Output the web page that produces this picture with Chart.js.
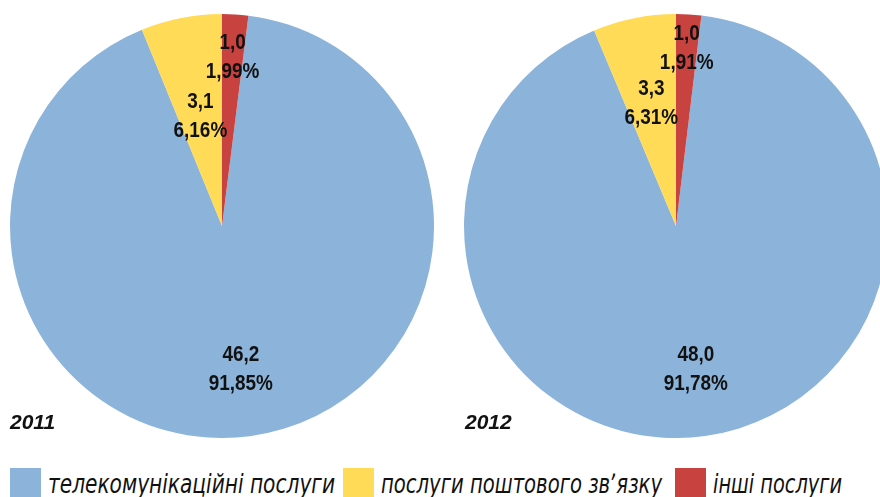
<!DOCTYPE html>
<html>
<head>
<meta charset="utf-8">
<script src="https://cdn.jsdelivr.net/npm/chart.js@4.4.0/dist/chart.umd.min.js"></script>
<style>
  html, body { margin: 0; padding: 0; background: #fff; }
  body { width: 880px; height: 497px; position: relative; overflow: hidden; }
  canvas { position: absolute; top: 14px; }
  #pie2011 { left: 10px; }
  #pie2012 { left: 464px; }
  .year { position: absolute; top: 410px; font: italic bold 21px "Liberation Sans", Arial, sans-serif; color: #111; }
  .leg { position: absolute; top: 468px; height: 31px; white-space: nowrap; }
  .leg span.box { position: absolute; left: 0; top: 0; width: 31px; height: 31px; }
  .leg span.txt { position: absolute; left: 38px; top: 1px; display: inline-block; transform-origin: 0 50%;
                  font: italic 26px "DejaVu Sans Condensed", "DejaVu Sans", sans-serif; color: #111; line-height: 31px; }
</style>
</head>
<body>
<canvas id="pie2011" width="424" height="424"></canvas>
<canvas id="pie2012" width="424" height="424"></canvas>
<div class="year" style="left:10px">2011</div>
<div class="year" style="left:465px">2012</div>
<div id="legend"></div>
<script>
const categories = ['телекомунікаційні послуги', 'послуги поштового зв\u02BCязку', 'інші послуги'];
const colors = ['#8CB3D9', '#FFDB58', '#C8433F'];
const values2011 = [46.2, 3.1, 1.0];
const values2012 = [48.0, 3.3, 1.0];
const legendX = [10, 343, 675];
const legendTextW = [287, 281, 129];

function fmt(v, d) {
    return v.toFixed(d).replace('.', ',');
}

const labelPlugin = {
    id: 'sliceLabels',
    afterDatasetsDraw(chart, args, opts) {
        const ctx = chart.ctx;
        const ds = chart.data.datasets[0];
        const total = ds.data.reduce((a, b) => a + b, 0);
        const arcs = chart.getDatasetMeta(0).data;
        const put = (txt, x, y) => {
            ctx.save();
            ctx.translate(x, y);
            ctx.scale(0.86, 1);
            ctx.fillText(txt, 0, 0);
            ctx.restore();
        };
        ctx.save();
        ctx.font = 'bold 22px "Liberation Sans", Arial, sans-serif';
        ctx.fillStyle = '#111';
        ctx.textAlign = 'center';
        ctx.textBaseline = 'middle';
        arcs.forEach((arc, i) => {
            const p = arc.getProps(['x', 'y', 'startAngle', 'endAngle', 'outerRadius'], true);
            const mid = (p.startAngle + p.endAngle) / 2;
            const r = p.outerRadius * opts.radius[i];
            const cx = p.x + Math.cos(mid) * r;
            const cy = p.y + Math.sin(mid) * r;
            put(fmt(ds.data[i], 1), cx, cy - 14);
            put(fmt(ds.data[i] / total * 100, 2) + '%', cx, cy + 15);
        });
        ctx.restore();
    }
};

function makePie(id, values, radius) {
    const total = values.reduce((a, b) => a + b, 0);
    new Chart(document.getElementById(id), {
        type: 'pie',
        data: {
            labels: categories,
            datasets: [{
                data: values,
                backgroundColor: colors,
                borderWidth: 0,
                hoverOffset: 0
            }]
        },
        options: {
            responsive: false,
            animation: false,
            rotation: values[2] / total * 360,
            layout: { padding: 0 },
            plugins: {
                legend: { display: false },
                tooltip: { enabled: false },
                sliceLabels: { radius: radius }
            }
        },
        plugins: [labelPlugin]
    });
}

makePie('pie2011', values2011, [0.68, 0.53, 0.80]);
makePie('pie2012', values2012, [0.68, 0.59, 0.84]);

document.getElementById('legend').innerHTML = categories.map((c, i) =>
    `<div class="leg" style="left:${legendX[i]}px"><span class="box" style="background:${colors[i]}"></span><span class="txt">${c}</span></div>`
).join('');
document.querySelectorAll('.leg span.txt').forEach((el, i) => {
    const w = el.getBoundingClientRect().width;
    el.style.transform = `scaleX(${legendTextW[i] / w})`;
});
</script>
</body>
</html>
